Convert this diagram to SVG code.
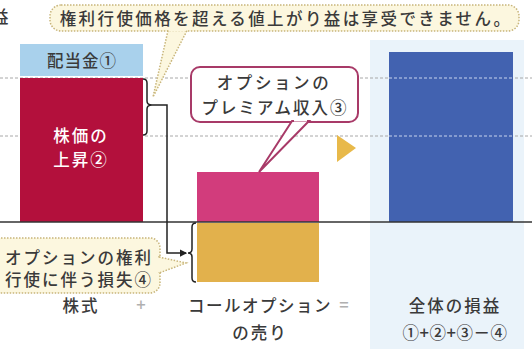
<svg xmlns="http://www.w3.org/2000/svg" width="532" height="349" viewBox="0 0 532 349">
<style>
text{font-family:"Noto Sans CJK JP","Noto Sans",sans-serif;font-weight:500;fill:#3a3a3a;text-anchor:middle}
.t16{font-size:16.5px;letter-spacing:2px}
.w{fill:#ffffff}
.op{fill:#b0b0b0}
.dash{stroke:#a8a8a8;stroke-width:1;stroke-dasharray:3 2;fill:none}
.dashL{stroke:#c8d4ee;stroke-width:1;stroke-dasharray:3 2;fill:none}
.note{fill:#fcf7df;stroke:#c8b57a;stroke-width:1.5;stroke-dasharray:1.5 1.5}
.brace{fill:none;stroke:#222;stroke-width:1.5}
</style>
<defs>
<marker id="ah" viewBox="0 0 6 6" refX="5" refY="3" markerWidth="5" markerHeight="5" orient="auto">
<path d="M0,0 L6,3 L0,6 z" fill="#222"/>
</marker>
</defs>
<rect width="532" height="349" fill="#ffffff"/>
<text x="-8" y="23" class="t16" style="text-anchor:start">益</text>
<rect x="370" y="40" width="154" height="309" fill="#eaf3fa"/>
<path class="dash" d="M0,78 H532 M0,136 H532"/>
<g id="legend-dividend">
<rect x="20" y="44" width="123" height="32" fill="#a9d1ec"/>
<text x="82" y="67" class="t16" style="letter-spacing:1px">配当金①</text>
</g>
<g id="bar-stock">
<rect x="20" y="78" width="123" height="144" fill="#b3103c"/>
<text x="81" y="142" class="t16 w">株価の</text>
<text x="81" y="166" class="t16 w">上昇②</text>
</g>
<g id="bar-premium">
<rect x="197" y="172" width="122" height="50" fill="#d23c7c"/>
</g>
<g id="bar-loss">
<rect x="197" y="223" width="122" height="59" fill="#e2b14c"/>
</g>
<g id="bar-total">
<rect x="389" y="52" width="124" height="170" fill="#4262b0"/>
<path class="dashL" d="M389,78 H513 M389,136 H513"/>
</g>
<line x1="0" y1="222" x2="532" y2="222" stroke="#333" stroke-width="1.5"/>
<g id="equals-arrow">
<polygon points="337,135 356,148 337,162" fill="#e8b94a"/>
</g>
<g id="note-top">
<rect x="50" y="5" width="469" height="26" rx="11" class="note"/>
<polygon points="168,30.5 153,97 187,30.5" class="note"/>
<rect x="169" y="28" width="17" height="3" fill="#fcf7df"/>
<text x="286" y="25" class="t16" style="letter-spacing:2.4px">権利行使価格を超える値上がり益は享受できません。</text>
</g>
<g id="note-premium">
<rect x="191" y="67" width="167" height="55" rx="9" fill="#ffffff" stroke="#a83a68" stroke-width="2"/>
<polygon points="292,121 259,172 309,121" fill="#ffffff" stroke="#a83a68" stroke-width="2"/>
<rect x="294" y="118" width="13" height="3.5" fill="#ffffff"/>
<text x="274" y="89" class="t16" style="letter-spacing:2.6px">オプションの</text>
<text x="275" y="114" class="t16">プレミアム収入③</text>
</g>
<g id="note-loss">
<rect x="-12" y="238" width="172" height="55" rx="10" class="note"/>
<polygon points="159,257 186,263 159,273" class="note"/>
<rect x="157" y="258" width="3" height="14" fill="#fcf7df"/>
<text x="79" y="264" class="t16">オプションの権利</text>
<text x="79" y="286" class="t16">行使に伴う損失④</text>
</g>
<g id="connectors">
<path class="brace" d="M143,79 Q147,79 147,83 L147,101 Q147,105 152,105 Q147,105 147,109 L147,131 Q147,135 143,135"/>
<path class="brace" d="M152,105 H167 V253 H186" stroke-width="1.2" marker-end="url(#ah)"/>
<path class="brace" d="M196,223 Q192,223 192,227 L192,249 Q192,253 188,253 Q192,253 192,257 L192,278 Q192,282 196,282"/>
</g>
<g id="labels">
<text x="81" y="312" class="t16">株式</text>
<text x="142" y="311" class="t16 op">+</text>
<text x="260" y="312" class="t16" style="letter-spacing:1.5px">コールオプション</text>
<text x="345" y="311" class="t16 op">=</text>
<text x="260" y="339" class="t16">の売り</text>
<text x="455" y="312" class="t16">全体の損益</text>
<text x="455" y="339" class="t16" style="letter-spacing:0.5px">①+②+③－④</text>
</g>
</svg>
